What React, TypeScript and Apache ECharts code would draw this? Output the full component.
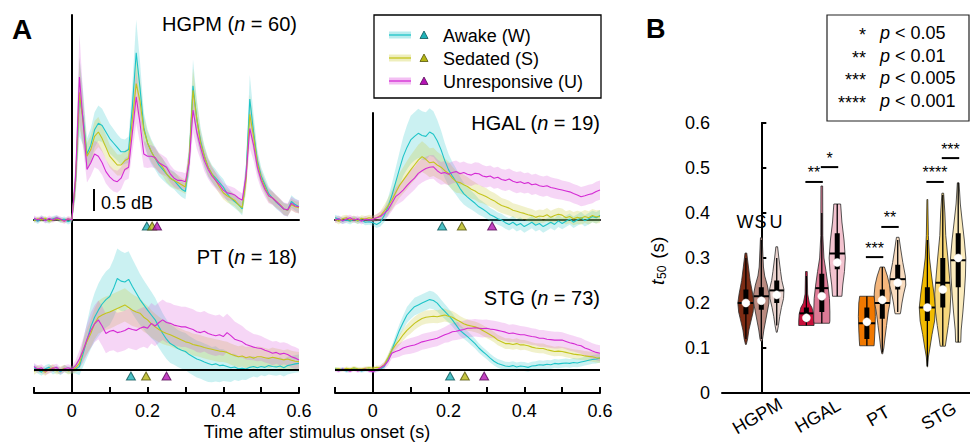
import React, { useEffect, useRef } from "react";
import * as echarts from "echarts";

const FONT = '"Liberation Sans", Arial, Helvetica, sans-serif';

// ---------- Panel A: time courses (dB), sampled every 10 ms from -0.1 s to 0.6 s ----------
const T_START = -0.1;
const T_STEP = 0.01;

const HGPM_W = [
  0.02, -0.03, 0.04, 0.0, -0.02, 0.03, 0.05, -0.01, 0.02, -0.04,
  0.0, 0.9, 2.8, 2.3, 1.5, 1.7, 2.05, 2.2, 2.15, 2.0,
  1.85, 1.75, 1.65, 1.55, 1.55, 1.6, 2.6, 3.8, 3.0, 2.1,
  1.75, 1.55, 1.4, 1.25, 1.15, 1.05, 0.95, 0.9, 0.8, 0.7,
  0.65, 1.4, 3.05, 2.3, 1.8, 1.45, 1.2, 1.05, 0.95, 0.85,
  0.75, 0.6, 0.5, 0.42, 0.35, 0.25, 1.0, 2.75, 2.0, 1.35,
  1.0, 0.8, 0.6, 0.5, 0.4, 0.33, 0.25, 0.22, 0.42, 0.35,
  0.3,
];
const HGPM_S = [
  -0.02, 0.03, 0.0, 0.04, -0.03, 0.01, 0.03, 0.0, -0.02, 0.02,
  0.0, 0.9, 2.9, 2.2, 1.45, 1.6, 1.9, 2.0, 1.85, 1.65,
  1.45, 1.35, 1.25, 1.25, 1.35, 1.4, 2.3, 3.1, 2.7, 2.05,
  1.75, 1.55, 1.4, 1.3, 1.2, 1.05, 0.95, 0.9, 0.85, 0.8,
  0.75, 1.4, 2.95, 2.3, 1.75, 1.45, 1.2, 1.05, 0.9, 0.75,
  0.62, 0.55, 0.5, 0.45, 0.35, 0.28, 0.9, 2.4, 1.9, 1.3,
  0.95, 0.75, 0.55, 0.5, 0.42, 0.35, 0.25, 0.22, 0.35, 0.3,
  0.28,
];
const HGPM_U = [
  0.04, 0.0, 0.05, -0.02, 0.04, 0.0, 0.05, 0.02, -0.03, 0.03,
  0.0, 1.0, 3.25, 2.2, 1.15, 1.3, 1.5, 1.45, 1.3, 1.1,
  0.98, 0.9, 0.87, 0.95, 1.15, 1.2, 2.0, 2.8, 2.2, 1.5,
  1.45, 1.45, 1.42, 1.3, 1.25, 1.2, 1.05, 0.95, 0.9, 0.9,
  0.87, 1.3, 2.5, 2.0, 1.65, 1.35, 1.15, 1.0, 0.9, 0.8,
  0.68, 0.62, 0.6, 0.57, 0.5, 0.45, 1.0, 2.08, 1.7, 1.2,
  0.9, 0.7, 0.55, 0.5, 0.42, 0.34, 0.25, 0.23, 0.38, 0.32,
  0.3,
];
const HGPM_W_SEM = [
  0.06, 0.06, 0.06, 0.06, 0.06, 0.06, 0.06, 0.06, 0.06, 0.06,
  0.06, 0.4, 0.9, 0.6, 0.35, 0.38, 0.4, 0.4, 0.38, 0.36,
  0.34, 0.32, 0.3, 0.3, 0.28, 0.3, 0.5, 0.75, 0.6, 0.35,
  0.3, 0.28, 0.26, 0.25, 0.24, 0.22, 0.2, 0.2, 0.2, 0.18,
  0.18, 0.35, 0.6, 0.45, 0.3, 0.25, 0.22, 0.2, 0.2, 0.18,
  0.18, 0.16, 0.16, 0.15, 0.15, 0.15, 0.3, 0.55, 0.4, 0.25,
  0.2, 0.18, 0.16, 0.15, 0.15, 0.14, 0.14, 0.14, 0.14, 0.14,
  0.14,
];
const HGPM_S_SEM = [
  0.05, 0.05, 0.05, 0.05, 0.05, 0.05, 0.05, 0.05, 0.05, 0.05,
  0.05, 0.35, 0.8, 0.5, 0.3, 0.32, 0.35, 0.34, 0.3, 0.28,
  0.26, 0.25, 0.24, 0.24, 0.23, 0.25, 0.45, 0.6, 0.5, 0.3,
  0.26, 0.24, 0.22, 0.21, 0.2, 0.19, 0.18, 0.18, 0.17, 0.16,
  0.16, 0.3, 0.5, 0.4, 0.28, 0.22, 0.2, 0.18, 0.17, 0.16,
  0.15, 0.15, 0.14, 0.14, 0.14, 0.14, 0.28, 0.45, 0.35, 0.22,
  0.18, 0.16, 0.15, 0.14, 0.14, 0.13, 0.13, 0.13, 0.13, 0.13,
  0.13,
];
const HGPM_U_SEM = [
  0.06, 0.06, 0.06, 0.06, 0.06, 0.06, 0.06, 0.06, 0.06, 0.06,
  0.06, 0.4, 1.0, 0.6, 0.3, 0.3, 0.3, 0.3, 0.28, 0.27,
  0.26, 0.25, 0.25, 0.25, 0.25, 0.26, 0.45, 0.6, 0.45, 0.3,
  0.27, 0.25, 0.24, 0.23, 0.22, 0.21, 0.2, 0.2, 0.2, 0.19,
  0.19, 0.3, 0.5, 0.38, 0.28, 0.24, 0.22, 0.2, 0.19, 0.18,
  0.17, 0.17, 0.16, 0.16, 0.16, 0.16, 0.28, 0.45, 0.35, 0.24,
  0.2, 0.18, 0.17, 0.16, 0.15, 0.15, 0.15, 0.15, 0.15, 0.15,
  0.15,
];

const HGAL_W = [
  0.05, 0.02, -0.02, 0.0, -0.03, 0.02, -0.02, 0.0, -0.05, -0.04,
  -0.06, -0.1, -0.05, 0.1, 0.3, 0.55, 0.85, 1.15, 1.44, 1.65,
  1.82, 1.9, 1.97, 1.92, 1.9, 2.0, 1.95, 1.8, 1.6, 1.35,
  1.14, 1.0, 0.87, 0.72, 0.6, 0.52, 0.45, 0.38, 0.3, 0.25,
  0.19, 0.12, 0.08, 0.03, 0.0, -0.06, -0.1, -0.05, -0.12, -0.08,
  -0.15, -0.1, -0.05, -0.12, -0.08, -0.15, -0.1, -0.05, -0.1, -0.02,
  -0.08, -0.03, 0.02, -0.05, 0.0, 0.05, -0.02, 0.03, 0.08, 0.05,
  0.1,
];
const HGAL_S = [
  0.02, -0.03, 0.03, 0.05, 0.0, 0.03, -0.02, 0.04, 0.02, 0.05,
  0.03, 0.05, 0.1, 0.2, 0.32, 0.45, 0.62, 0.78, 0.9, 1.02,
  1.14, 1.25, 1.36, 1.44, 1.38, 1.3, 1.32, 1.25, 1.2, 1.12,
  1.06, 0.95, 0.87, 0.85, 0.8, 0.76, 0.7, 0.66, 0.6, 0.57,
  0.53, 0.48, 0.44, 0.38, 0.33, 0.3, 0.27, 0.22, 0.2, 0.17,
  0.15, 0.12, 0.1, 0.06, 0.09, 0.08, 0.12, 0.06, 0.1, 0.13,
  0.11, 0.05, 0.08, 0.03, 0.06, 0.04, 0.08, 0.05, 0.1, 0.07,
  0.08,
];
const HGAL_U = [
  0.0, 0.03, -0.02, 0.02, 0.05, 0.0, 0.03, -0.03, 0.02, 0.0,
  0.02, 0.05, 0.08, 0.15, 0.23, 0.38, 0.53, 0.6, 0.68, 0.78,
  0.87, 0.95, 1.06, 1.12, 1.17, 1.2, 1.21, 1.12, 1.06, 1.08,
  1.04, 1.08, 1.1, 1.05, 1.08, 1.04, 1.02, 1.06, 1.05, 1.0,
  0.98, 1.0, 0.95, 0.97, 0.92, 0.9, 0.93, 0.88, 0.85, 0.87,
  0.83, 0.85, 0.8, 0.82, 0.78, 0.76, 0.78, 0.74, 0.72, 0.7,
  0.68, 0.66, 0.64, 0.6, 0.57, 0.53, 0.55, 0.58, 0.6, 0.65,
  0.68,
];
const HGAL_W_SEM = [
  0.07, 0.07, 0.07, 0.07, 0.07, 0.07, 0.07, 0.07, 0.07, 0.07,
  0.07, 0.08, 0.1, 0.15, 0.2, 0.26, 0.32, 0.38, 0.44, 0.5,
  0.55, 0.55, 0.56, 0.55, 0.55, 0.54, 0.52, 0.48, 0.44, 0.4,
  0.36, 0.32, 0.3, 0.27, 0.25, 0.23, 0.21, 0.2, 0.18, 0.17,
  0.16, 0.15, 0.15, 0.14, 0.14, 0.14, 0.14, 0.14, 0.14, 0.14,
  0.14, 0.14, 0.14, 0.14, 0.14, 0.14, 0.14, 0.14, 0.14, 0.14,
  0.13, 0.13, 0.13, 0.13, 0.13, 0.13, 0.13, 0.13, 0.13, 0.13,
  0.13,
];
const HGAL_S_SEM = [
  0.07, 0.07, 0.07, 0.07, 0.07, 0.07, 0.07, 0.07, 0.07, 0.07,
  0.07, 0.08, 0.1, 0.14, 0.18, 0.22, 0.25, 0.28, 0.3, 0.32,
  0.33, 0.34, 0.35, 0.35, 0.34, 0.33, 0.32, 0.3, 0.29, 0.28,
  0.27, 0.26, 0.25, 0.24, 0.23, 0.22, 0.21, 0.2, 0.2, 0.19,
  0.19, 0.18, 0.18, 0.18, 0.17, 0.17, 0.17, 0.16, 0.16, 0.16,
  0.15, 0.15, 0.15, 0.15, 0.15, 0.15, 0.15, 0.15, 0.15, 0.15,
  0.15, 0.15, 0.15, 0.15, 0.15, 0.15, 0.15, 0.15, 0.15, 0.15,
  0.15,
];
const HGAL_U_SEM = [
  0.07, 0.07, 0.07, 0.07, 0.07, 0.07, 0.07, 0.07, 0.07, 0.07,
  0.07, 0.08, 0.1, 0.12, 0.15, 0.18, 0.2, 0.22, 0.24, 0.25,
  0.26, 0.26, 0.27, 0.27, 0.27, 0.27, 0.27, 0.26, 0.26, 0.26,
  0.25, 0.25, 0.25, 0.25, 0.25, 0.25, 0.25, 0.25, 0.25, 0.25,
  0.24, 0.24, 0.24, 0.24, 0.24, 0.24, 0.24, 0.24, 0.24, 0.24,
  0.23, 0.23, 0.23, 0.23, 0.23, 0.23, 0.23, 0.23, 0.23, 0.23,
  0.22, 0.22, 0.22, 0.22, 0.22, 0.22, 0.22, 0.22, 0.22, 0.22,
  0.22,
];

const PT_W = [
  0.05, 0.0, -0.05, 0.03, 0.06, -0.02, 0.02, -0.04, 0.03, 0.0,
  0.0, 0.02, 0.08, 0.38, 0.68, 0.98, 1.2, 1.36, 1.5, 1.6,
  1.67, 1.85, 2.08, 2.02, 2.0, 2.06, 1.9, 1.75, 1.6, 1.48,
  1.36, 1.25, 1.14, 0.98, 0.83, 0.7, 0.6, 0.55, 0.49, 0.45,
  0.42, 0.35, 0.3, 0.25, 0.22, 0.18, 0.15, 0.12, 0.14, 0.1,
  0.11, 0.08, 0.05, 0.07, 0.03, 0.04, 0.02, 0.06, 0.08, 0.05,
  0.08, 0.06, 0.1, 0.08, 0.07, 0.09, 0.05, 0.1, 0.12, 0.14,
  0.15,
];
const PT_S = [
  -0.03, 0.03, 0.0, -0.05, 0.02, 0.05, -0.02, 0.0, 0.04, -0.02,
  0.0, 0.05, 0.15, 0.45, 0.65, 0.83, 1.05, 1.2, 1.25, 1.29,
  1.32, 1.36, 1.4, 1.44, 1.48, 1.42, 1.36, 1.32, 1.29, 1.2,
  1.14, 1.05, 0.98, 0.92, 0.87, 0.83, 0.8, 0.76, 0.72, 0.68,
  0.64, 0.62, 0.58, 0.56, 0.54, 0.51, 0.49, 0.47, 0.45, 0.43,
  0.42, 0.4, 0.36, 0.33, 0.3, 0.32, 0.28, 0.3, 0.27, 0.3,
  0.3, 0.28, 0.26, 0.29, 0.27, 0.25, 0.23, 0.25, 0.22, 0.2,
  0.19,
];
const PT_U = [
  0.08, 0.02, 0.05, -0.03, 0.0, 0.04, 0.06, -0.02, 0.03, 0.05,
  0.02, 0.1, 0.25, 0.45, 0.7, 0.9, 1.05, 1.14, 1.0, 0.83,
  0.88, 0.9, 0.85, 0.87, 0.9, 0.95, 0.92, 0.9, 0.95, 0.98,
  0.95, 1.06, 1.0, 1.08, 1.14, 1.08, 1.06, 1.02, 1.0, 0.98,
  0.98, 0.95, 0.92, 0.87, 0.85, 0.88, 0.83, 0.8, 0.78, 0.8,
  0.76, 0.85, 0.78, 0.7, 0.67, 0.64, 0.58, 0.55, 0.52, 0.5,
  0.49, 0.45, 0.42, 0.38, 0.4, 0.36, 0.38, 0.35, 0.3, 0.27,
  0.23,
];
const PT_W_SEM = [
  0.08, 0.08, 0.08, 0.08, 0.08, 0.08, 0.08, 0.08, 0.08, 0.08,
  0.08, 0.1, 0.2, 0.3, 0.4, 0.5, 0.55, 0.6, 0.62, 0.64,
  0.65, 0.66, 0.68, 0.68, 0.66, 0.64, 0.62, 0.6, 0.58, 0.56,
  0.55, 0.53, 0.5, 0.48, 0.46, 0.45, 0.44, 0.43, 0.42, 0.42,
  0.42, 0.42, 0.42, 0.42, 0.42, 0.42, 0.42, 0.4, 0.4, 0.38,
  0.36, 0.34, 0.32, 0.3, 0.28, 0.26, 0.25, 0.24, 0.23, 0.22,
  0.2, 0.2, 0.2, 0.2, 0.2, 0.2, 0.2, 0.2, 0.2, 0.2,
  0.2,
];
const PT_S_SEM = [
  0.08, 0.08, 0.08, 0.08, 0.08, 0.08, 0.08, 0.08, 0.08, 0.08,
  0.08, 0.1, 0.15, 0.22, 0.28, 0.32, 0.35, 0.37, 0.38, 0.38,
  0.38, 0.38, 0.38, 0.38, 0.38, 0.37, 0.36, 0.35, 0.34, 0.33,
  0.32, 0.31, 0.3, 0.29, 0.28, 0.27, 0.26, 0.26, 0.25, 0.25,
  0.25, 0.25, 0.25, 0.25, 0.25, 0.25, 0.25, 0.25, 0.25, 0.25,
  0.24, 0.24, 0.24, 0.24, 0.24, 0.24, 0.24, 0.24, 0.24, 0.24,
  0.22, 0.22, 0.22, 0.22, 0.22, 0.22, 0.22, 0.22, 0.22, 0.22,
  0.22,
];
const PT_U_SEM = [
  0.08, 0.08, 0.08, 0.08, 0.08, 0.08, 0.08, 0.08, 0.08, 0.08,
  0.08, 0.12, 0.2, 0.28, 0.35, 0.4, 0.42, 0.44, 0.45, 0.45,
  0.45, 0.45, 0.45, 0.45, 0.45, 0.45, 0.45, 0.45, 0.45, 0.45,
  0.46, 0.46, 0.46, 0.46, 0.46, 0.46, 0.46, 0.46, 0.46, 0.46,
  0.46, 0.46, 0.46, 0.46, 0.46, 0.46, 0.46, 0.46, 0.46, 0.46,
  0.44, 0.43, 0.42, 0.4, 0.38, 0.36, 0.34, 0.32, 0.3, 0.3,
  0.28, 0.28, 0.27, 0.27, 0.26, 0.26, 0.25, 0.25, 0.25, 0.25,
  0.25,
];

const STG_W = [
  0.03, 0.0, 0.02, -0.02, 0.0, 0.03, 0.01, -0.02, 0.0, 0.02,
  -0.03, 0.0, 0.02, 0.08, 0.25, 0.45, 0.68, 0.9, 1.08, 1.25,
  1.35, 1.44, 1.48, 1.52, 1.56, 1.6, 1.58, 1.52, 1.42, 1.33,
  1.24, 1.14, 1.02, 0.9, 0.83, 0.76, 0.68, 0.6, 0.5, 0.42,
  0.35, 0.27, 0.2, 0.15, 0.12, 0.09, 0.08, 0.1, 0.07, 0.09,
  0.08, 0.06, 0.09, 0.1, 0.12, 0.11, 0.13, 0.12, 0.15, 0.14,
  0.15, 0.16, 0.15, 0.17, 0.16, 0.18, 0.2, 0.22, 0.24, 0.25,
  0.27,
];
const STG_S = [
  0.02, 0.03, 0.0, 0.04, 0.02, 0.05, 0.03, 0.02, 0.04, 0.05,
  0.04, 0.06, 0.05, 0.12, 0.28, 0.45, 0.57, 0.68, 0.8, 0.9,
  0.98, 1.06, 1.12, 1.17, 1.2, 1.21, 1.22, 1.21, 1.23, 1.25,
  1.22, 1.2, 1.15, 1.1, 1.05, 1.02, 1.0, 0.98, 0.95, 0.9,
  0.85, 0.8, 0.75, 0.68, 0.64, 0.6, 0.6, 0.58, 0.6, 0.57,
  0.57, 0.55, 0.52, 0.5, 0.49, 0.49, 0.46, 0.44, 0.42, 0.43,
  0.42, 0.4, 0.38, 0.36, 0.35, 0.34, 0.32, 0.31, 0.3, 0.28,
  0.27,
];
const STG_U = [
  0.0, -0.02, 0.02, 0.0, -0.03, 0.01, -0.02, 0.0, 0.02, -0.02,
  -0.04, 0.0, 0.05, 0.1, 0.2, 0.38, 0.42, 0.45, 0.5, 0.53,
  0.55, 0.57, 0.6, 0.64, 0.66, 0.68, 0.7, 0.72, 0.76, 0.8,
  0.83, 0.87, 0.88, 0.9, 0.92, 0.95, 0.95, 0.96, 0.95, 0.94,
  0.95, 0.93, 0.92, 0.9, 0.88, 0.86, 0.83, 0.84, 0.82, 0.8,
  0.8, 0.78, 0.76, 0.75, 0.72, 0.72, 0.7, 0.69, 0.68, 0.68,
  0.68, 0.65, 0.62, 0.6, 0.57, 0.55, 0.5, 0.47, 0.43, 0.4,
  0.38,
];
const STG_W_SEM = [
  0.04, 0.04, 0.04, 0.04, 0.04, 0.04, 0.04, 0.04, 0.04, 0.04,
  0.04, 0.04, 0.05, 0.06, 0.08, 0.1, 0.12, 0.14, 0.16, 0.18,
  0.19, 0.2, 0.2, 0.2, 0.2, 0.2, 0.2, 0.19, 0.18, 0.17,
  0.16, 0.15, 0.14, 0.13, 0.12, 0.12, 0.12, 0.11, 0.11, 0.1,
  0.1, 0.1, 0.1, 0.1, 0.1, 0.1, 0.1, 0.1, 0.1, 0.1,
  0.1, 0.1, 0.1, 0.1, 0.1, 0.1, 0.1, 0.1, 0.1, 0.1,
  0.1, 0.1, 0.1, 0.1, 0.1, 0.1, 0.1, 0.1, 0.1, 0.1,
  0.1,
];
const STG_S_SEM = [
  0.04, 0.04, 0.04, 0.04, 0.04, 0.04, 0.04, 0.04, 0.04, 0.04,
  0.04, 0.04, 0.05, 0.06, 0.08, 0.1, 0.11, 0.12, 0.13, 0.14,
  0.15, 0.15, 0.15, 0.15, 0.15, 0.15, 0.15, 0.15, 0.15, 0.15,
  0.14, 0.14, 0.14, 0.13, 0.13, 0.13, 0.12, 0.12, 0.12, 0.12,
  0.12, 0.12, 0.12, 0.12, 0.12, 0.12, 0.12, 0.12, 0.12, 0.12,
  0.11, 0.11, 0.11, 0.11, 0.11, 0.11, 0.11, 0.11, 0.11, 0.11,
  0.11, 0.11, 0.11, 0.11, 0.11, 0.11, 0.11, 0.11, 0.11, 0.11,
  0.11,
];
const STG_U_SEM = [
  0.04, 0.04, 0.04, 0.04, 0.04, 0.04, 0.04, 0.04, 0.04, 0.04,
  0.04, 0.05, 0.06, 0.08, 0.1, 0.12, 0.14, 0.15, 0.16, 0.17,
  0.18, 0.18, 0.18, 0.18, 0.18, 0.18, 0.18, 0.18, 0.18, 0.18,
  0.2, 0.2, 0.2, 0.2, 0.2, 0.2, 0.2, 0.2, 0.2, 0.2,
  0.2, 0.2, 0.2, 0.2, 0.2, 0.2, 0.2, 0.2, 0.2, 0.2,
  0.19, 0.19, 0.19, 0.19, 0.19, 0.19, 0.19, 0.19, 0.19, 0.19,
  0.18, 0.18, 0.18, 0.18, 0.18, 0.18, 0.18, 0.18, 0.18, 0.18,
  0.18,
];

// t50 markers (s) for W, S, U in each panel
const T50_HGPM = [0.198, 0.212, 0.225];
const T50_HGAL = [0.183, 0.235, 0.315];
const T50_PT = [0.156, 0.196, 0.25];
const T50_STG = [0.204, 0.243, 0.294];

const PANEL_NAMES = ["HGPM", "HGAL", "PT", "STG"];
const PANEL_N = [60, 19, 18, 73];
const COND_NAMES = ["Awake (W)", "Sedated (S)", "Unresponsive (U)"];
const X_TICK_LABELS = ["0", "0.2", "0.4", "0.6"];

// ---------- Panel B: violins ----------
const GROUPS = ["HGPM", "HGAL", "PT", "STG"];
const CONDS_SHORT = ["W", "S", "U"];
// profiles: [t50 value, relative density]
const V_PROFILES: number[][][] = [
  [[0.311, 0.1], [0.28, 0.3], [0.25, 0.5], [0.22, 0.8], [0.2, 0.95], [0.18, 0.85], [0.16, 0.6], [0.14, 0.35], [0.12, 0.2], [0.108, 0.05]],
  [[0.345, 0.1], [0.3, 0.2], [0.28, 0.25], [0.26, 0.4], [0.24, 0.7], [0.22, 0.9], [0.2, 0.9], [0.18, 0.7], [0.16, 0.5], [0.14, 0.3], [0.12, 0.15], [0.115, 0.05]],
  [[0.325, 0.1], [0.3, 0.25], [0.27, 0.45], [0.25, 0.6], [0.23, 0.85], [0.21, 0.8], [0.19, 0.55], [0.17, 0.35], [0.15, 0.2], [0.135, 0.05]],
  [[0.27, 0.1], [0.22, 0.15], [0.2, 0.35], [0.19, 0.65], [0.175, 0.85], [0.16, 0.9], [0.15, 0.9]],
  [[0.46, 0.1], [0.35, 0.12], [0.3, 0.25], [0.27, 0.5], [0.24, 0.72], [0.21, 0.9], [0.18, 0.95], [0.16, 0.95], [0.155, 0.9]],
  [[0.42, 0.4], [0.38, 0.55], [0.34, 0.8], [0.3, 0.95], [0.27, 0.85], [0.24, 0.65], [0.215, 0.55]],
  [[0.215, 0.85], [0.2, 0.95], [0.17, 1.0], [0.14, 0.95], [0.12, 0.9], [0.105, 0.85]],
  [[0.28, 0.25], [0.26, 0.6], [0.24, 0.85], [0.22, 0.95], [0.2, 0.9], [0.18, 0.7], [0.15, 0.5], [0.12, 0.3], [0.1, 0.18], [0.087, 0.05]],
  [[0.346, 0.15], [0.32, 0.35], [0.29, 0.6], [0.26, 0.9], [0.24, 0.95], [0.22, 0.7], [0.2, 0.5], [0.18, 0.35], [0.176, 0.3]],
  [[0.43, 0.05], [0.35, 0.12], [0.3, 0.25], [0.26, 0.5], [0.22, 0.78], [0.19, 0.95], [0.16, 0.85], [0.13, 0.55], [0.1, 0.3], [0.08, 0.12], [0.058, 0.03]],
  [[0.444, 0.1], [0.4, 0.25], [0.35, 0.35], [0.3, 0.6], [0.26, 0.78], [0.22, 0.95], [0.18, 0.85], [0.15, 0.65], [0.12, 0.42], [0.104, 0.3]],
  [[0.467, 0.1], [0.42, 0.25], [0.38, 0.48], [0.34, 0.72], [0.3, 0.9], [0.26, 0.85], [0.22, 0.72], [0.18, 0.55], [0.14, 0.35], [0.113, 0.3]],
];
const V_LO = [0.12, 0.12, 0.15, 0.15, 0.155, 0.215, 0.105, 0.09, 0.18, 0.06, 0.105, 0.113];
const V_Q1 = [0.175, 0.185, 0.2, 0.158, 0.18, 0.275, 0.12, 0.165, 0.23, 0.16, 0.19, 0.235];
const V_Q3 = [0.23, 0.235, 0.25, 0.19, 0.265, 0.355, 0.19, 0.23, 0.285, 0.235, 0.3, 0.355];
const V_HI = [0.3, 0.34, 0.3, 0.26, 0.4, 0.42, 0.215, 0.28, 0.34, 0.34, 0.44, 0.467];
const V_DOT = [0.2, 0.205, 0.218, 0.167, 0.215, 0.29, 0.158, 0.207, 0.245, 0.19, 0.23, 0.3];
const V_MID = [0.2, 0.215, 0.228, 0.177, 0.233, 0.31, 0.155, 0.2, 0.253, 0.19, 0.245, 0.295];
const V_COLORS = [
  "#7d2c14", "#b98a80", "#ead3ce",
  "#c80f3a", "#dd7a95", "#f3c3cf",
  "#f07800", "#f4b67c", "#f9dcbf",
  "#f1bb00", "#f7d77c", "#fbebbd",
];

// significance bars
const SIG_GROUP = [1, 1, 2, 2, 3, 3];
const SIG_FROM = [0, 1, 0, 1, 0, 1];
const SIG_TO = [1, 2, 1, 2, 1, 2];
const SIG_Y = [0.469, 0.502, 0.302, 0.369, 0.469, 0.522];
const SIG_LABEL = ["**", "*", "***", "**", "****", "***"];

const P_STARS = ["*", "**", "***", "****"];
const P_VALUES = ["0.05", "0.01", "0.005", "0.001"];

// ---------- styles / layout ----------
const COND_LINE = ["#1ec4c8", "#c4c41c", "#d42ad4"];
const COND_BAND = ["rgba(70,205,210,0.28)", "rgba(205,205,70,0.28)", "rgba(215,70,215,0.22)"];
const COND_BAND_LEG = ["#b9ecee", "#eeeebc", "#f3bff3"];
const COND_TRI = ["#1fb2b8", "#b6b614", "#b414b4"];
const COND_TRI_EDGE = ["#0b5558", "#55550a", "#550a55"];

const DB_PX = 44; // pixels per dB (0.5 dB scale bar = 22 px)
const PANEL_GRIDS = [
  { left: 34, top: 15, width: 265, height: 213, base: 205 },
  { left: 335, top: 113, width: 265, height: 115, base: 107 },
  { left: 34, top: 228, width: 265, height: 165, base: 142 },
  { left: 335, top: 228, width: 265, height: 165, base: 142 },
];
const B_GRID = { left: 722, top: 123, width: 248, height: 270 };
const B_X_MIN = -0.65;
const B_X_MAX = 3.45;
const TITLE_POS = [
  [297, 24],
  [600, 123],
  [297, 257],
  [600, 298],
];
const MARKER_Y_PX = 6;
const VIOLIN_OFFSETS = [-0.255, 0, 0.255];
const VIOLIN_HALF_PX = 8.5;

function timeAt(i: number) {
  return Math.round((T_START + i * T_STEP) * 1000) / 1000;
}

function densityAt(prof: number[][], v: number) {
  for (let k = 0; k < prof.length - 1; k++) {
    const a = prof[k], b = prof[k + 1];
    if (v <= a[0] && v >= b[0]) {
      const f = (a[0] - v) / (a[0] - b[0]);
      return a[1] + f * (b[1] - a[1]);
    }
  }
  return 0.3;
}

function buildOption() {
  const MEANS = [
    [HGPM_W, HGPM_S, HGPM_U],
    [HGAL_W, HGAL_S, HGAL_U],
    [PT_W, PT_S, PT_U],
    [STG_W, STG_S, STG_U],
  ];
  const SEMS = [
    [HGPM_W_SEM, HGPM_S_SEM, HGPM_U_SEM],
    [HGAL_W_SEM, HGAL_S_SEM, HGAL_U_SEM],
    [PT_W_SEM, PT_S_SEM, PT_U_SEM],
    [STG_W_SEM, STG_S_SEM, STG_U_SEM],
  ];
  const T50 = [T50_HGPM, T50_HGAL, T50_PT, T50_STG];

  const grid: any[] = PANEL_GRIDS.map((g) => ({
    left: g.left, top: g.top, width: g.width, height: g.height, containLabel: false,
  }));
  grid.push({ ...B_GRID, containLabel: false });

  const xAxis: any[] = [];
  const yAxis: any[] = [];
  PANEL_GRIDS.forEach((g, pi) => {
    const bottom = pi >= 2;
    xAxis.push({
      gridIndex: pi,
      type: "value",
      min: -0.1,
      max: 0.6,
      interval: 0.1,
      axisLine: { show: true, onZero: !bottom, lineStyle: { color: "#000", width: 2 } },
      axisTick: { show: bottom, inside: true, length: 6, lineStyle: { color: "#000", width: 2 } },
      axisLabel: {
        show: bottom,
        fontSize: 18,
        fontFamily: FONT,
        color: "#000",
        margin: 9,
        showMaxLabel: true,
        formatter: (v: number) => {
          const k = Math.round(v * 10);
          return k >= 0 && k % 2 === 0 ? X_TICK_LABELS[k / 2] : "";
        },
      },
      splitLine: { show: false },
    });
    yAxis.push({
      gridIndex: pi,
      type: "value",
      min: -(g.height - g.base) / DB_PX,
      max: g.base / DB_PX,
      axisLine: { show: true, onZero: true, lineStyle: { color: "#000", width: 2 } },
      axisTick: { show: false },
      axisLabel: { show: false },
      splitLine: { show: false },
    });
  });
  xAxis.push({
    gridIndex: 4,
    type: "value",
    min: B_X_MIN,
    max: B_X_MAX,
    axisLine: { show: true, onZero: false, lineStyle: { color: "#000", width: 2 } },
    axisTick: { show: false },
    splitLine: { show: false },
    axisLabel: { show: false },
  });
  yAxis.push({
    gridIndex: 4,
    type: "value",
    min: 0,
    max: 0.6,
    interval: 0.1,
    axisLine: { show: true, lineStyle: { color: "#000", width: 2 } },
    axisTick: { show: true, inside: true, length: 5, lineStyle: { color: "#000", width: 2 } },
    axisLabel: {
      fontSize: 18,
      fontFamily: FONT,
      color: "#000",
      margin: 12,
      formatter: (v: number) => (v === 0 ? "0" : v.toFixed(1)),
    },
    splitLine: { show: false },
  });

  const series: any[] = [];
  PANEL_GRIDS.forEach((g, pi) => {
    // shaded SEM bands
    for (let c = 0; c < 3; c++) {
      const m = MEANS[pi][c];
      const s = SEMS[pi][c];
      const rows = m.map((v, i) => [timeAt(i), v - s[i], v + s[i]]);
      series.push({
        type: "custom",
        xAxisIndex: pi,
        yAxisIndex: pi,
        silent: true,
        clip: false,
        z: 1,
        data: rows,
        renderItem: (params: any, api: any) => {
          if (params.dataIndex !== 0) return null;
          const upper = rows.map((r) => api.coord([r[0], r[2]]));
          const lower = rows.map((r) => api.coord([r[0], r[1]])).reverse();
          return {
            type: "polygon",
            shape: { points: upper.concat(lower) },
            style: { fill: COND_BAND[c] },
          };
        },
      });
    }
    // mean lines
    for (let c = 0; c < 3; c++) {
      const m = MEANS[pi][c];
      series.push({
        type: "line", xAxisIndex: pi, yAxisIndex: pi,
        data: m.map((v, i) => [timeAt(i), v]),
        symbol: "none", lineStyle: { color: COND_LINE[c], width: 1.1 }, silent: true, clip: false, z: 3,
      });
    }
    const sc: any = {
      type: "scatter", xAxisIndex: pi, yAxisIndex: pi,
      symbol: "triangle", symbolSize: [9, 8], silent: true, clip: false, z: 6,
      data: T50[pi].map((t, c) => ({
        value: [t, -MARKER_Y_PX / DB_PX],
        itemStyle: { color: COND_TRI[c], borderColor: COND_TRI_EDGE[c], borderWidth: 1 },
      })),
    };
    if (pi >= 2) {
      sc.markLine = {
        silent: true, symbol: ["none", "none"], label: { show: false },
        lineStyle: { color: "#000", width: 2, type: "solid" },
        data: [{ yAxis: 0 }],
      };
    }
    series.push(sc);
  });

  // violins
  series.push({
    type: "custom",
    xAxisIndex: 4,
    yAxisIndex: 4,
    silent: true,
    z: 4,
    data: V_PROFILES.map((p, k) => [Math.floor(k / 3) + VIOLIN_OFFSETS[k % 3], V_DOT[k]]),
    renderItem: (params: any, api: any) => {
      const k = params.dataIndex;
      const xc = Math.floor(k / 3) + VIOLIN_OFFSETS[k % 3];
      const prof = V_PROFILES[k];
      const right = prof.map(([v, d]) => {
        const p = api.coord([xc, v]);
        return [p[0] + d * VIOLIN_HALF_PX, p[1]];
      });
      const left = prof
        .map(([v, d]) => {
          const p = api.coord([xc, v]);
          return [p[0] - d * VIOLIN_HALF_PX, p[1]];
        })
        .reverse();
      const cx = api.coord([xc, 0])[0];
      const yLo = api.coord([xc, V_LO[k]])[1];
      const yHi = api.coord([xc, V_HI[k]])[1];
      const yQ1 = api.coord([xc, V_Q1[k]])[1];
      const yQ3 = api.coord([xc, V_Q3[k]])[1];
      const yMid = api.coord([xc, V_MID[k]])[1];
      const yDot = api.coord([xc, V_DOT[k]])[1];
      const midHalf = densityAt(prof, V_MID[k]) * VIOLIN_HALF_PX;
      return {
        type: "group",
        children: [
          {
            type: "polygon",
            shape: { points: right.concat(left) },
            style: { fill: V_COLORS[k], stroke: "#2a2a2a", lineWidth: 0.8 },
          },
          {
            type: "line",
            shape: { x1: cx, y1: yLo, x2: cx, y2: yHi },
            style: { stroke: "#000", lineWidth: 1.3 },
          },
          {
            type: "rect",
            shape: { x: cx - 2.5, y: yQ3, width: 5, height: yQ1 - yQ3 },
            style: { fill: "#000" },
          },
          {
            type: "line",
            shape: { x1: cx - midHalf, y1: yMid, x2: cx + midHalf, y2: yMid },
            style: { stroke: "#000", lineWidth: 2 },
          },
          {
            type: "circle",
            shape: { cx, cy: yDot, r: 4 },
            style: { fill: "#fff", stroke: "#fff", lineWidth: 0.5 },
          },
        ],
      };
    },
  });

  // significance bars
  series.push({
    type: "custom",
    xAxisIndex: 4,
    yAxisIndex: 4,
    silent: true,
    z: 5,
    data: SIG_GROUP.map((g, k) => [g, SIG_Y[k]]),
    renderItem: (params: any, api: any) => {
      const k = params.dataIndex;
      const g = SIG_GROUP[k];
      const p1 = api.coord([g + VIOLIN_OFFSETS[SIG_FROM[k]], SIG_Y[k]]);
      const p2 = api.coord([g + VIOLIN_OFFSETS[SIG_TO[k]], SIG_Y[k]]);
      return {
        type: "group",
        children: [
          {
            type: "line",
            shape: { x1: p1[0] - 1, y1: p1[1], x2: p2[0] + 1, y2: p2[1] },
            style: { stroke: "#000", lineWidth: 2 },
          },
          {
            type: "text",
            style: {
              text: SIG_LABEL[k],
              x: (p1[0] + p2[0]) / 2,
              y: p1[1] - 1,
              fill: "#000",
              fontSize: 16,
              fontFamily: FONT,
              align: "center",
              verticalAlign: "bottom",
              textAlign: "center",
              textVerticalAlign: "bottom",
            },
          },
        ],
      };
    },
  });

  // ---------- graphic annotations ----------
  const txt = (text: string, x: number, y: number, opts: any = {}) => ({
    type: "text",
    x,
    y,
    silent: true,
    style: Object.assign(
      {
        text,
        fill: "#000",
        fontSize: 18,
        fontFamily: FONT,
        align: "left",
        verticalAlign: "middle",
        textAlign: "left",
        textVerticalAlign: "middle",
      },
      opts
    ),
  });

  const graphic: any[] = [];
  graphic.push(txt("A", 12, 29, { fontSize: 28, fontWeight: "bold" }));
  graphic.push(txt("B", 646, 29, { fontSize: 27, fontWeight: "bold" }));

  PANEL_NAMES.forEach((nm, pi) => {
    graphic.push({
      type: "text",
      x: TITLE_POS[pi][0],
      y: TITLE_POS[pi][1],
      silent: true,
      style: {
        text: `{a|${nm} (}{i|n}{a| = ${PANEL_N[pi]})}`,
        align: "right",
        verticalAlign: "middle",
        textAlign: "right",
        textVerticalAlign: "middle",
        rich: {
          a: { fontSize: 20, fontFamily: FONT, fill: "#000", color: "#000" },
          i: { fontSize: 20, fontFamily: FONT, fontStyle: "italic", fill: "#000", color: "#000" },
        },
      },
    });
  });

  // scale bar
  graphic.push({
    type: "line",
    silent: true,
    shape: { x1: 94, y1: 189, x2: 94, y2: 189 + 0.5 * DB_PX },
    style: { stroke: "#000", lineWidth: 2 },
  });
  graphic.push(txt("0.5 dB", 101, 203));

  graphic.push(txt("Time after stimulus onset (s)", 317, 432, { align: "center", textAlign: "center" }));

  // rotated category labels of panel B, placed at the x-axis category positions
  GROUPS.forEach((nm, g) => {
    const px = B_GRID.left + ((g - B_X_MIN) / (B_X_MAX - B_X_MIN)) * B_GRID.width;
    graphic.push({
      type: "text",
      x: px - 4,
      y: B_GRID.top + B_GRID.height + 23,
      rotation: Math.PI / 6,
      silent: true,
      style: {
        text: nm,
        fill: "#000",
        fontSize: 18,
        fontFamily: FONT,
        align: "center",
        verticalAlign: "middle",
        textAlign: "center",
        textVerticalAlign: "middle",
      },
    });
  });

  // legend (panel A)
  graphic.push({
    type: "rect",
    silent: true,
    shape: { x: 374, y: 15, width: 227, height: 83 },
    style: { fill: "#fff", stroke: "#000", lineWidth: 1.3 },
    z: 10,
  });
  COND_NAMES.forEach((nm, c) => {
    const y = 35 + c * 23;
    graphic.push({
      type: "rect", silent: true, z: 11,
      shape: { x: 389, y: y - 3.5, width: 22, height: 7 },
      style: { fill: COND_BAND_LEG[c] },
    });
    graphic.push({
      type: "line", silent: true, z: 12,
      shape: { x1: 389, y1: y, x2: 411, y2: y },
      style: { stroke: COND_LINE[c], lineWidth: 1.3 },
    });
    graphic.push({
      type: "polygon", silent: true, z: 12,
      shape: { points: [[420, y + 3.5], [428, y + 3.5], [424, y - 4]] },
      style: { fill: COND_TRI[c], stroke: COND_TRI_EDGE[c], lineWidth: 0.8 },
    });
    const t: any = txt(nm, 443, y + 1);
    t.z = 12;
    graphic.push(t);
  });

  // p-value legend (panel B)
  graphic.push({
    type: "rect",
    silent: true,
    shape: { x: 827, y: 15, width: 142, height: 106 },
    style: { fill: "#fff", stroke: "#222", lineWidth: 1.2 },
    z: 10,
  });
  P_STARS.forEach((st, k) => {
    const y = 33 + k * 22.5;
    const a: any = txt(st, 866, y + 2, { align: "right", textAlign: "right" });
    a.z = 11;
    graphic.push(a);
    graphic.push({
      type: "text",
      x: 880,
      y,
      z: 11,
      silent: true,
      style: {
        text: `{i|p}{a| < ${P_VALUES[k]}}`,
        align: "left",
        verticalAlign: "middle",
        textAlign: "left",
        textVerticalAlign: "middle",
        rich: {
          a: { fontSize: 18, fontFamily: FONT, fill: "#000", color: "#000" },
          i: { fontSize: 18, fontFamily: FONT, fontStyle: "italic", fill: "#000", color: "#000" },
        },
      },
    });
  });

  CONDS_SHORT.forEach((c, k) => {
    graphic.push(txt(c, 745 + k * 15.5, 222, { align: "center", textAlign: "center" }));
  });

  // y axis name: t50 (s)
  graphic.push({
    type: "group",
    x: 657,
    y: 258,
    rotation: Math.PI / 2,
    silent: true,
    children: [
      {
        type: "text",
        x: -27,
        y: 0,
        style: { text: "t", fontSize: 19, fontStyle: "italic", fontFamily: FONT, fill: "#000", align: "left", verticalAlign: "middle", textAlign: "left", textVerticalAlign: "middle" },
      },
      {
        type: "text",
        x: -21,
        y: 5,
        style: { text: "50", fontSize: 12, fontFamily: FONT, fill: "#000", align: "left", verticalAlign: "middle", textAlign: "left", textVerticalAlign: "middle" },
      },
      {
        type: "text",
        x: -6,
        y: 0,
        style: { text: " (s)", fontSize: 19, fontFamily: FONT, fill: "#000", align: "left", verticalAlign: "middle", textAlign: "left", textVerticalAlign: "middle" },
      },
    ],
  });

  return {
    animation: false,
    backgroundColor: "#fff",
    textStyle: { fontFamily: FONT },
    grid,
    xAxis,
    yAxis,
    series,
    graphic,
  };
}

export default function App() {
  const ref = useRef<HTMLDivElement>(null);
  useEffect(() => {
    const chart = echarts.init(ref.current as HTMLDivElement, null, { renderer: "svg" });
    chart.setOption(buildOption() as any);
    return () => chart.dispose();
  }, []);
  return (
    <div
      ref={ref}
      style={{ position: "fixed", left: 0, top: 0, width: 970, height: 442, background: "#fff" }}
    />
  );
}
